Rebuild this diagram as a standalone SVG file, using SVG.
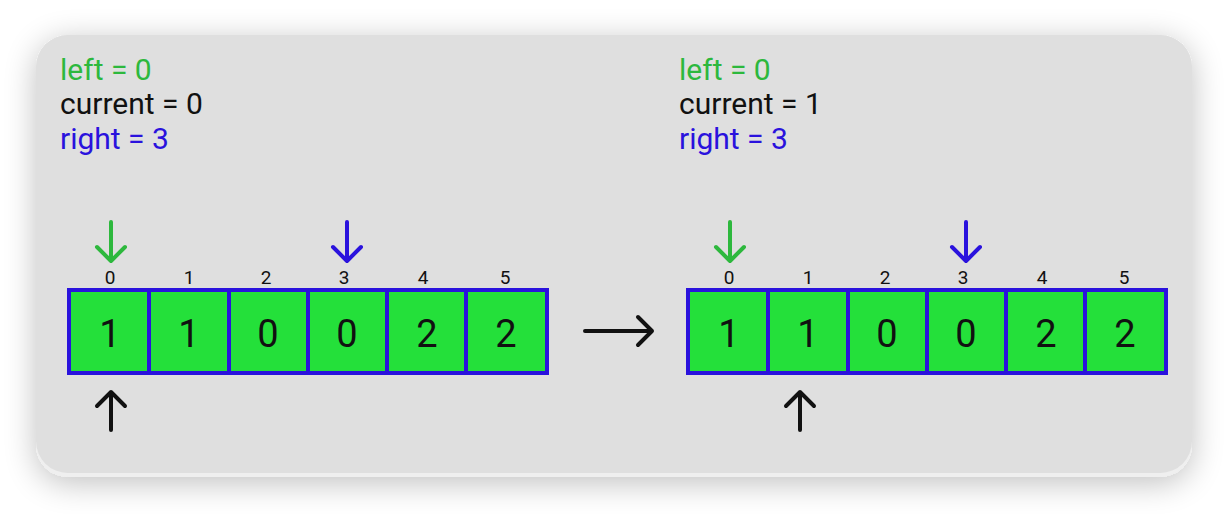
<svg xmlns="http://www.w3.org/2000/svg" width="1228" height="514" viewBox="0 0 1228 514">
<defs>
<filter id="sh" x="-10%" y="-20%" width="120%" height="140%">
<feGaussianBlur in="SourceAlpha" stdDeviation="16"/>
<feOffset dx="0" dy="6" result="b"/>
<feComponentTransfer><feFuncA type="linear" slope="0.25"/></feComponentTransfer>
<feMerge><feMergeNode/><feMergeNode in="SourceGraphic"/></feMerge>
</filter>
<style>
text{font-family:Roboto,"Liberation Sans",sans-serif}
.lbl{font-size:30px}
.idx{font-size:19px;fill:#111;text-anchor:middle}
.val{font-size:38px;fill:#111;text-anchor:middle}
.cell{fill:#24e03a;stroke:#2a12dd;stroke-width:4}
.arr{fill:none;stroke-width:4;stroke-linecap:round;stroke-linejoin:round}
</style>
</defs>
<rect width="1228" height="514" fill="#ffffff"/>
<g id="card" filter="url(#sh)">
<rect x="36" y="35" width="1156" height="442" rx="32" fill="#efefef"/>
<path d="M68 35 H1160 A32 32 0 0 1 1192 67 V441 A32 32 0 0 1 1160 473 H68 A32 32 0 0 1 36 441 V67 A32 32 0 0 1 68 35 Z" fill="#dfdfdf"/>
</g>
<g id="state-left">
<text class="lbl" x="60" y="80" fill="#2db83d">left = 0</text>
<text class="lbl" x="60" y="114" fill="#111">current = 0</text>
<text class="lbl" x="60" y="149" fill="#2a12dd">right = 3</text>
</g>
<g id="state-right">
<text class="lbl" x="679" y="80" fill="#2db83d">left = 0</text>
<text class="lbl" x="679" y="114" fill="#111">current = 1</text>
<text class="lbl" x="679" y="149" fill="#2a12dd">right = 3</text>
</g>
<g id="array-left">
<rect class="cell" x="69" y="290" width="80" height="83"/>
<rect class="cell" x="149" y="290" width="80" height="83"/>
<rect class="cell" x="229" y="290" width="79" height="83"/>
<rect class="cell" x="308" y="290" width="79" height="83"/>
<rect class="cell" x="387" y="290" width="79" height="83"/>
<rect class="cell" x="466" y="290" width="81" height="83"/>
<text class="idx" x="110" y="284">0</text>
<text class="idx" x="189" y="284">1</text>
<text class="idx" x="266" y="284">2</text>
<text class="idx" x="344" y="284">3</text>
<text class="idx" x="423" y="284">4</text>
<text class="idx" x="505" y="284">5</text>
<text class="val" x="110" y="347">1</text>
<text class="val" x="189" y="347">1</text>
<text class="val" x="268" y="347">0</text>
<text class="val" x="347" y="347">0</text>
<text class="val" x="427" y="347">2</text>
<text class="val" x="506" y="347">2</text>
</g>
<g id="array-right">
<rect class="cell" x="688" y="290" width="80" height="83"/>
<rect class="cell" x="768" y="290" width="80" height="83"/>
<rect class="cell" x="848" y="290" width="79" height="83"/>
<rect class="cell" x="927" y="290" width="79" height="83"/>
<rect class="cell" x="1006" y="290" width="79" height="83"/>
<rect class="cell" x="1085" y="290" width="81" height="83"/>
<text class="idx" x="729" y="284">0</text>
<text class="idx" x="808" y="284">1</text>
<text class="idx" x="885" y="284">2</text>
<text class="idx" x="963" y="284">3</text>
<text class="idx" x="1042" y="284">4</text>
<text class="idx" x="1124" y="284">5</text>
<text class="val" x="729" y="347">1</text>
<text class="val" x="808" y="347">1</text>
<text class="val" x="887" y="347">0</text>
<text class="val" x="966" y="347">0</text>
<text class="val" x="1046" y="347">2</text>
<text class="val" x="1125" y="347">2</text>
</g>
<g id="connectors">
<path class="arr" stroke="#2db83d" d="M111 222 V261 M97 247 L111 261 L125 247"/>
<path class="arr" stroke="#2a12dd" d="M347 222 V261 M333 247 L347 261 L361 247"/>
<path class="arr" stroke="#111" d="M111 430 V392 M97 406 L111 392 L125 406"/>
<path class="arr" stroke="#2db83d" d="M730 222 V261 M716 247 L730 261 L744 247"/>
<path class="arr" stroke="#2a12dd" d="M966 222 V261 M952 247 L966 261 L980 247"/>
<path class="arr" stroke="#111" d="M800 430 V392 M786 406 L800 392 L814 406"/>
<path class="arr" stroke="#111" d="M585 331 H652 M638 317 L652 331 L638 345"/>
</g>
</svg>
